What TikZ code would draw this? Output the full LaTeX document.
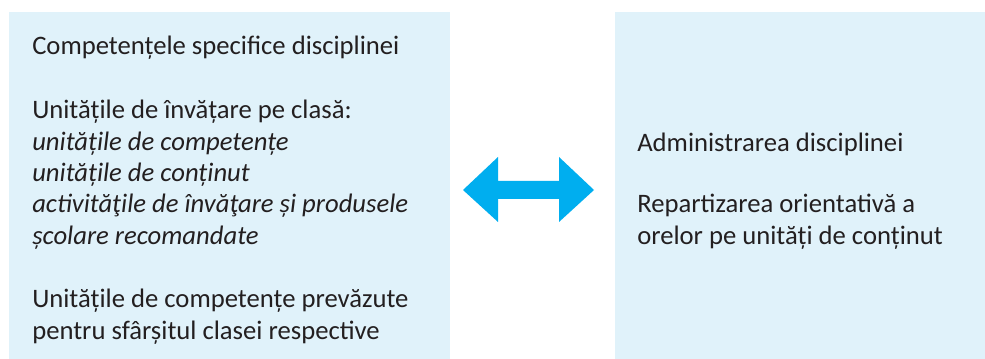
\documentclass[tikz,border=0pt]{standalone}
\usepackage{fontspec}
\setmainfont{Carlito}
\definecolor{boxfill}{HTML}{E0F2FA}
\definecolor{arrowcol}{HTML}{00AEEF}
\definecolor{txt}{HTML}{231F20}
\begin{document}
\begin{tikzpicture}[x=0.75pt,y=-0.75pt,
  panel/.style={fill=boxfill,draw=none},
  lbl/.style={anchor=base west,inner sep=0pt,text=txt,font=\fontsize{20}{24}\selectfont},
  ilbl/.style={lbl,font=\fontsize{20}{24}\selectfont\itshape}]
\useasboundingbox (0,0) rectangle (985,359);
\fill[white] (0,0) rectangle (985,359);
\path[panel] (9,12) rectangle (450,359);
\path[panel] (615,12) rectangle (985,359);
% left texts
\node[lbl] (l1) at (32,55) {Competențele specifice disciplinei};
\node[lbl] (l2) at (32,119) {Unitățile de învățare pe clasă:};
\node[ilbl] (l3) at (32,151) {unitățile de competențe};
\node[ilbl] (l4) at (32,182) {unitățile de conținut};
\node[ilbl] (l5) at (32,213) {activităţile de învăţare și produsele};
\node[ilbl] (l6) at (32,245) {școlare recomandate};
\node[lbl] (l7) at (32,308) {Unitățile de competențe prevăzute};
\node[lbl] (l8) at (32,340) {pentru sfârșitul clasei respective};
% right texts
\node[lbl] (r1) at (637,152) {Administrarea disciplinei};
\node[lbl] (r2) at (637,213) {Repartizarea orientativă a};
\node[lbl] (r3) at (637,245) {orelor pe unități de conținut};
% double arrow
\fill[arrowcol] (463,190) -- (498,157) -- (498,181) -- (559,181) -- (559,157) -- (594,190)
  -- (559,222) -- (559,199) -- (498,199) -- (498,222) -- cycle;
\end{tikzpicture}
\end{document}
